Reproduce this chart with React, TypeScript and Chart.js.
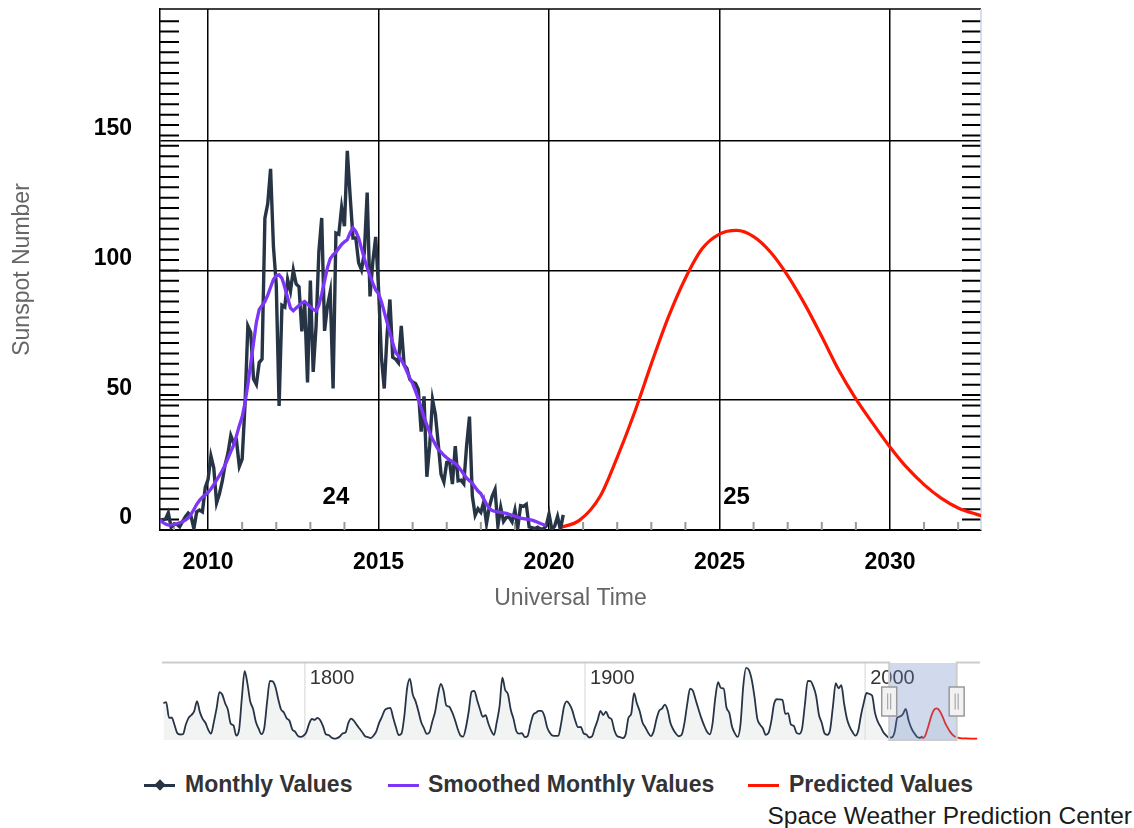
import React, { useEffect, useRef } from 'react';
import { Chart, registerables } from 'chart.js';

Chart.register(...registerables);

const FONT = '"Liberation Sans", Arial, Helvetica, sans-serif';

// monthly mean sunspot numbers, Aug 2008 .. Jun 2020
const monthlyStart = 2008 + 7 / 12;
const monthlyValues = [
  3.3, 4.0, 4.2, 6.6, 1.1,
  2.3, 2.2, 1.2, 3.2, 5.1, 6.5, 5.3, 0.5, 7.0, 7.7, 7.0, 16.3,
  19.5, 28.5, 24.0, 10.4, 13.9, 18.8, 25.2, 29.6, 36.4, 33.6, 34.4, 24.5,
  27.3, 48.3, 78.6, 76.1, 58.2, 56.1, 64.5, 65.8, 120.1, 125.7, 139.1, 109.3,
  94.4, 47.8, 86.6, 85.9, 96.5, 92.0, 100.1, 94.8, 93.7, 76.5, 87.6, 56.8,
  96.1, 60.9, 78.3, 107.3, 120.2, 76.7, 86.2, 91.8, 54.5, 114.4, 113.9, 124.2,
  117.0, 146.1, 128.7, 112.5, 112.5, 102.9, 100.2, 106.9, 130.0, 90.0, 103.6, 112.9,
  93.0, 66.7, 54.5, 75.3, 88.8, 66.5, 65.8, 64.4, 78.6, 63.6, 62.2, 58.0,
  57.0, 56.4, 54.1, 37.9, 51.5, 20.5, 32.4, 50.2, 44.6, 33.4, 21.4, 18.5,
  26.1, 26.4, 17.7, 32.3, 18.9, 19.2, 17.8, 32.6, 43.7, 13.2, 5.7, 8.2,
  6.8, 10.7, 2.5, 8.9, 13.1, 15.6, 1.6, 8.7, 3.3, 4.9, 4.9, 3.1,
  7.7, 0.8, 9.4, 9.1, 9.9, 1.2, 0.9, 0.5, 1.1, 0.4, 0.5, 1.5,
  6.2, 0.2, 1.5, 5.2, 0.2, 5.8,
];

// 13-month smoothed values, Aug 2008 .. Dec 2019
const smoothedStart = 2008 + 7 / 12;
const smoothedValues = [
  3.8, 3.0, 2.3, 1.9, 2.0,
  2.2, 2.4, 2.8, 3.2, 3.8, 4.6, 6.0, 7.9, 9.9, 11.4, 12.6, 13.5,
  14.5, 15.8, 17.5, 19.2, 21.0, 22.9, 25.0, 27.6, 30.2, 32.7, 36.3, 40.2,
  43.6, 49.0, 56.0, 64.0, 72.0, 80.0, 85.0, 86.5, 88.0, 90.5, 93.5, 96.5,
  98.0, 98.3, 97.0, 93.5, 89.5, 85.5, 84.5, 85.5, 86.5, 87.5, 88.0, 87.0,
  86.0, 85.0, 84.4, 86.5, 91.0, 96.0, 101.0, 104.5, 106.0, 107.0, 108.5, 110.0,
  111.0, 111.8, 114.5, 116.4, 115.0, 112.5, 108.5, 104.5, 101.0, 98.0, 95.0, 92.5,
  91.0, 88.0, 84.0, 80.0, 76.0, 72.0, 68.5, 67.0, 65.5, 63.5, 61.0, 58.5,
  56.4, 53.5, 50.5, 47.0, 43.5, 40.5, 37.5, 35.0, 33.0, 31.0, 30.0, 28.8,
  27.8, 27.0, 26.3, 25.6, 24.5, 23.0, 21.5, 20.0, 19.0, 18.0, 16.5, 15.0,
  14.0, 12.0, 10.0, 8.3, 7.5, 7.2, 7.0, 6.8, 6.6, 6.4, 6.0, 5.7,
  5.3, 4.9, 4.6, 4.4, 4.2, 4.0, 3.8, 3.4, 3.0, 2.5, 2.1, 1.8,
];

// predicted cycle 25
const predictedYears = [
  2020.3, 2020.9, 2021.5, 2022.0, 2022.5, 2023.0, 2023.5, 2024.0, 2024.5, 2025.0,
  2025.5, 2026.0, 2026.5, 2027.0, 2027.5, 2028.0, 2028.5, 2029.0, 2029.5, 2030.0,
  2030.5, 2031.0, 2031.5, 2032.0, 2032.5, 2033.0, 2034.0, 2035.0, 2036.0, 2038.0, 2040.0,
];
const predictedValues = [
  0.8, 3.8, 13.0, 28.0, 45.0, 64.0, 82.0, 97.0, 108.5, 114.0,
  115.4, 113.0, 107.0, 98.0, 87.0, 74.5, 61.5, 50.5, 41.0, 32.0,
  24.0, 17.5, 12.3, 8.5, 6.2, 4.5, 2.5, 1.5, 1.0, 0.5, 0.3,
];

// yearly values for the navigator, 1749 .. 2020
const navStartYear = 1749;
const navYearlyValues = [
  134.7, 139.0, 79.5, 79.7, 51.2, 20.3, 16.0, 17.0, 54.0, 79.3, 90.0,
  104.8, 143.2, 102.0, 75.2, 60.7, 34.8, 19.0, 63.0, 116.3, 176.8,
  168.0, 136.0, 110.8, 58.0, 51.0, 11.7, 33.0, 154.2, 257.3, 209.8,
  141.3, 113.5, 64.2, 38.0, 17.0, 40.2, 138.2, 220.0, 218.2, 196.8,
  149.8, 111.0, 100.0, 78.2, 68.3, 35.5, 26.7, 10.7, 6.8, 11.3,
  24.2, 56.7, 75.0, 71.8, 79.2, 70.3, 46.8, 16.8, 13.5, 4.2,
  0.0, 2.3, 8.3, 20.3, 23.2, 59.0, 76.3, 68.3, 52.9, 38.5,
  24.2, 9.2, 6.3, 2.2, 11.4, 28.2, 59.9, 83.0, 108.5, 115.2,
  117.4, 80.8, 44.3, 13.4, 19.5, 85.8, 192.7, 227.3, 168.7, 143.0,
  105.5, 63.3, 40.3, 18.1, 25.1, 65.8, 102.7, 166.3, 208.3, 182.5,
  126.3, 122.0, 102.7, 74.1, 39.0, 12.7, 8.2, 43.4, 104.4, 178.3,
  182.2, 146.6, 112.1, 83.5, 89.2, 57.8, 30.7, 13.9, 62.8, 123.6,
  232.0, 185.3, 169.2, 110.1, 74.5, 28.3, 18.9, 20.7, 5.7, 10.0,
  53.7, 90.5, 99.0, 106.1, 105.8, 86.3, 42.4, 21.8, 11.2, 10.4,
  11.8, 59.5, 121.7, 142.0, 130.0, 106.6, 69.4, 43.8, 44.4, 20.2,
  15.7, 4.6, 8.5, 40.8, 70.1, 105.5, 90.1, 102.8, 80.9, 73.2,
  30.9, 9.5, 6.0, 2.4, 16.1, 79.0, 95.0, 173.6, 134.6, 105.7,
  62.7, 43.5, 23.7, 9.7, 27.9, 74.0, 106.5, 114.7, 129.7, 108.2,
  59.4, 35.1, 18.6, 9.2, 14.6, 60.2, 132.8, 190.6, 182.6, 148.0,
  113.0, 79.2, 50.8, 27.1, 16.1, 55.3, 154.3, 214.7, 193.0, 190.7,
  118.9, 98.3, 45.0, 20.1, 6.6, 54.2, 200.7, 269.3, 261.7, 225.1,
  159.0, 76.4, 53.4, 39.9, 15.0, 22.0, 66.8, 132.9, 150.0, 149.4,
  148.0, 94.4, 97.6, 54.1, 49.2, 22.5, 18.4, 39.3, 131.0, 220.1,
  218.9, 198.9, 162.4, 91.0, 60.5, 20.6, 14.8, 33.9, 123.0, 211.1,
  191.8, 203.3, 133.0, 76.1, 44.9, 25.1, 11.6, 28.9, 88.3, 136.3,
  173.9, 170.4, 163.6, 99.3, 65.3, 45.8, 24.7, 12.6, 4.2, 4.8,
  24.9, 80.8, 84.5, 94.0, 113.3, 69.8, 39.8, 21.7, 7.0, 3.6,
  8.8,
];

const viewMin = 2008.59;
const viewMax = 2032.67;
const yMax = 200.7;
const navMin = 1749;
const navMax = 2041;
const xTicks = [2010, 2015, 2020, 2025, 2030];
const yTicks = [0, 50, 100, 150];
const navTicks = [1800, 1900, 2000];
const cycleLabels = [
  { text: '24', x: 2013.75, y: 12.4 },
  { text: '25', x: 2025.5, y: 12.4 },
];

const seriesNames = ['Monthly Values', 'Smoothed Monthly Values', 'Predicted Values'];
const seriesColors = ['#263445', '#7d35f7', '#ff1600'];

const monthlyPoints = monthlyValues.map((v, i) => ({ x: monthlyStart + i / 12, y: v }));
const smoothedPoints = smoothedValues.map((v, i) => ({ x: smoothedStart + i / 12, y: v }));
const predictedPoints = predictedValues.map((v, i) => ({ x: predictedYears[i], y: v }));
const navPoints = navYearlyValues.map((v, i) => ({ x: navStartYear + i + 0.5, y: v }));

const mainDecor = {
  id: 'mainDecor',
  beforeDatasetsDraw(chart: any) {
    const { ctx, chartArea: a, scales } = chart;
    const x = scales.x;
    const y = scales.y;
    ctx.save();
    // minor ticks on both sides of the plot
    ctx.strokeStyle = '#000';
    ctx.lineWidth = 2;
    ctx.beginPath();
    for (let v = 4; v < 200; v += 4) {
      const py = y.getPixelForValue(v);
      ctx.moveTo(a.left, py);
      ctx.lineTo(a.left + 19, py);
      ctx.moveTo(a.right - 19, py);
      ctx.lineTo(a.right, py);
    }
    ctx.stroke();
    // yearly minor ticks along the bottom
    ctx.strokeStyle = '#999';
    ctx.beginPath();
    for (let yr = 2009; yr <= 2032; yr++) {
      if (yr % 5 === 0) continue;
      const px = x.getPixelForValue(yr);
      ctx.moveTo(px, a.bottom);
      ctx.lineTo(px, a.bottom - 8);
    }
    ctx.stroke();
    // top edge and right edge of the plot
    ctx.strokeStyle = '#000';
    ctx.lineWidth = 1.5;
    ctx.beginPath();
    ctx.moveTo(a.left, a.top);
    ctx.lineTo(a.right, a.top);
    ctx.stroke();
    ctx.strokeStyle = '#c9d5ea';
    ctx.beginPath();
    ctx.moveTo(a.right, a.top);
    ctx.lineTo(a.right, a.bottom);
    ctx.stroke();
    ctx.restore();
  },
  afterDatasetsDraw(chart: any) {
    const { ctx, scales } = chart;
    ctx.save();
    ctx.fillStyle = '#000';
    ctx.font = `bold 24px ${FONT}`;
    ctx.textAlign = 'center';
    ctx.textBaseline = 'middle';
    cycleLabels.forEach((c) => {
      ctx.fillText(c.text, scales.x.getPixelForValue(c.x), scales.y.getPixelForValue(c.y));
    });
    ctx.restore();
  },
};

const navDecor = {
  id: 'navDecor',
  beforeDatasetsDraw(chart: any) {
    const { ctx, chartArea: a, scales } = chart;
    ctx.save();
    ctx.strokeStyle = '#e3e3e3';
    ctx.lineWidth = 1.5;
    ctx.beginPath();
    navTicks.forEach((t) => {
      const px = scales.x.getPixelForValue(t);
      ctx.moveTo(px, a.top);
      ctx.lineTo(px, a.bottom);
    });
    ctx.stroke();
    ctx.restore();
  },
  afterDatasetsDraw(chart: any) {
    const { ctx, chartArea: a, scales } = chart;
    const x = scales.x;
    ctx.save();
    ctx.fillStyle = '#333';
    ctx.font = `20px ${FONT}`;
    ctx.textAlign = 'left';
    ctx.textBaseline = 'top';
    navTicks.forEach((t) => ctx.fillText(String(t), x.getPixelForValue(t) + 5, a.top + 5));

    const x1 = x.getPixelForValue(viewMin);
    const x2 = x.getPixelForValue(viewMax);
    ctx.fillStyle = 'rgba(102,133,194,0.3)';
    ctx.fillRect(x1, a.top, x2 - x1, a.bottom - a.top);

    const top = a.top - 0.5;
    ctx.strokeStyle = '#cccccc';
    ctx.lineWidth = 2;
    ctx.beginPath();
    ctx.moveTo(a.left, top);
    ctx.lineTo(x1, top);
    ctx.lineTo(x1, a.bottom);
    ctx.lineTo(x2, a.bottom);
    ctx.lineTo(x2, top);
    ctx.lineTo(a.right, top);
    ctx.stroke();

    const cy = (a.top + a.bottom) / 2;
    [x1, x2].forEach((cx) => {
      ctx.fillStyle = '#f2f2f2';
      ctx.strokeStyle = '#999';
      ctx.lineWidth = 1.5;
      ctx.fillRect(cx - 7.5, cy - 14.5, 15, 29);
      ctx.strokeRect(cx - 7.5, cy - 14.5, 15, 29);
      ctx.lineWidth = 1;
      ctx.beginPath();
      ctx.moveTo(cx - 1.5, cy - 8);
      ctx.lineTo(cx - 1.5, cy + 8);
      ctx.moveTo(cx + 1.5, cy - 8);
      ctx.lineTo(cx + 1.5, cy + 8);
      ctx.stroke();
    });
    ctx.restore();
  },
};

function MainChart() {
  const canvas = useRef<HTMLCanvasElement>(null);

  useEffect(() => {
    const chart = new Chart(canvas.current as HTMLCanvasElement, {
      type: 'line',
      data: {
        datasets: [
          {
            label: seriesNames[1],
            data: smoothedPoints,
            borderColor: seriesColors[1],
            borderWidth: 3.3,
            pointRadius: 0,
            tension: 0,
            order: 0,
          },
          {
            label: seriesNames[0],
            data: monthlyPoints,
            borderColor: seriesColors[0],
            borderWidth: 3.4,
            pointRadius: 0,
            tension: 0,
            order: 1,
          },
          {
            label: seriesNames[2],
            data: predictedPoints,
            borderColor: seriesColors[2],
            borderWidth: 3.2,
            pointRadius: 0,
            cubicInterpolationMode: 'monotone',
            order: 2,
          },
        ],
      },
      options: {
        animation: false,
        responsive: true,
        maintainAspectRatio: false,
        events: [],
        layout: { padding: { top: 9, right: 153, left: 0, bottom: 0 } },
        plugins: { legend: { display: false }, tooltip: { enabled: false } },
        scales: {
          x: {
            type: 'linear',
            min: viewMin,
            max: viewMax,
            afterBuildTicks: (s: any) => {
              s.ticks = xTicks.map((v) => ({ value: v }));
            },
            afterFit: (s: any) => {
              s.height = 110;
              s.paddingLeft = 0;
              s.paddingRight = 0;
            },
            grid: { color: '#000', lineWidth: 1.5, drawTicks: false },
            border: { display: true, color: '#000', width: 2 },
            ticks: {
              padding: 19,
              color: '#000',
              autoSkip: false,
              maxRotation: 0,
              font: { family: FONT, size: 23, weight: 'bold' },
              callback: (v: any) => String(v),
            },
            title: {
              display: true,
              text: 'Universal Time',
              color: '#666',
              font: { family: FONT, size: 23 },
              padding: { top: 0, bottom: 28 },
            },
          },
          y: {
            type: 'linear',
            min: 0,
            max: yMax,
            afterBuildTicks: (s: any) => {
              s.ticks = yTicks.map((v) => ({ value: v }));
            },
            afterFit: (s: any) => {
              s.width = 160;
              s.paddingTop = 0;
              s.paddingBottom = 0;
            },
            grid: { color: '#000', lineWidth: 1.5, drawTicks: false },
            border: { display: true, color: '#000', width: 1.5 },
            ticks: {
              padding: 28,
              labelOffset: -12,
              color: '#000',
              autoSkip: false,
              font: { family: FONT, size: 23, weight: 'bold' },
              callback: (v: any) => String(v),
            },
            title: {
              display: true,
              text: 'Sunspot Number',
              color: '#666',
              font: { family: FONT, size: 23 },
              padding: { top: 9, bottom: 0 },
            },
          },
        },
      },
      plugins: [mainDecor],
    } as any);
    return () => {
      chart.destroy();
    };
  }, []);

  return (
    <div style={{ position: 'absolute', left: 0, top: 0, width: 1134, height: 640 }}>
      <canvas ref={canvas} />
    </div>
  );
}

function Navigator() {
  const canvas = useRef<HTMLCanvasElement>(null);

  useEffect(() => {
    const chart = new Chart(canvas.current as HTMLCanvasElement, {
      type: 'line',
      data: {
        datasets: [
          {
            data: navPoints,
            borderColor: seriesColors[0],
            borderWidth: 1.8,
            backgroundColor: 'rgba(222,228,228,0.4)',
            fill: 'start',
            pointRadius: 0,
            cubicInterpolationMode: 'monotone',
          },
          {
            data: predictedPoints,
            borderColor: seriesColors[2],
            borderWidth: 1.8,
            backgroundColor: 'rgba(222,228,228,0.4)',
            fill: 'start',
            pointRadius: 0,
            cubicInterpolationMode: 'monotone',
          },
        ],
      },
      options: {
        animation: false,
        responsive: true,
        maintainAspectRatio: false,
        events: [],
        layout: { padding: { top: 13, right: 154, left: 162, bottom: 10 } },
        plugins: { legend: { display: false }, tooltip: { enabled: false } },
        scales: {
          x: { type: 'linear', min: navMin, max: navMax, display: false },
          y: { type: 'linear', min: -5, max: 288, display: false },
        },
      },
      plugins: [navDecor],
    } as any);
    return () => {
      chart.destroy();
    };
  }, []);

  return (
    <div style={{ position: 'absolute', left: 0, top: 650, width: 1134, height: 100 }}>
      <canvas ref={canvas} />
    </div>
  );
}

const legendLayout = [
  { symbolLeft: 144, textLeft: 185, marker: true },
  { symbolLeft: 388, textLeft: 428, marker: false },
  { symbolLeft: 748, textLeft: 789, marker: false },
];

function Legend() {
  return (
    <>
      {seriesNames.map((name, i) => {
        const l = legendLayout[i];
        return (
          <React.Fragment key={name}>
            <div
              style={{
                position: 'absolute',
                left: l.symbolLeft,
                top: 783.5,
                width: 31,
                height: 3,
                background: seriesColors[i],
              }}
            />
            {l.marker && (
              <div
                style={{
                  position: 'absolute',
                  left: l.symbolLeft + 15.5 - 4,
                  top: 785 - 4,
                  width: 8,
                  height: 8,
                  background: seriesColors[i],
                  transform: 'rotate(45deg)',
                }}
              />
            )}
            <div
              style={{
                position: 'absolute',
                left: l.textLeft,
                top: 773,
                fontFamily: FONT,
                fontSize: 23,
                lineHeight: '23px',
                fontWeight: 'bold',
                color: '#333',
                whiteSpace: 'nowrap',
              }}
            >
              {name}
            </div>
          </React.Fragment>
        );
      })}
    </>
  );
}

export default function App() {
  return (
    <div style={{ position: 'absolute', left: 0, top: 0, width: 1134, height: 828, background: '#fff', overflow: 'hidden' }}>
      <MainChart />
      <Navigator />
      <Legend />
      <div
        style={{
          position: 'absolute',
          right: 2,
          top: 804,
          fontFamily: FONT,
          fontSize: 24.5,
          lineHeight: '24px',
          color: '#1a1a1a',
          whiteSpace: 'nowrap',
        }}
      >
        Space Weather Prediction Center
      </div>
    </div>
  );
}
